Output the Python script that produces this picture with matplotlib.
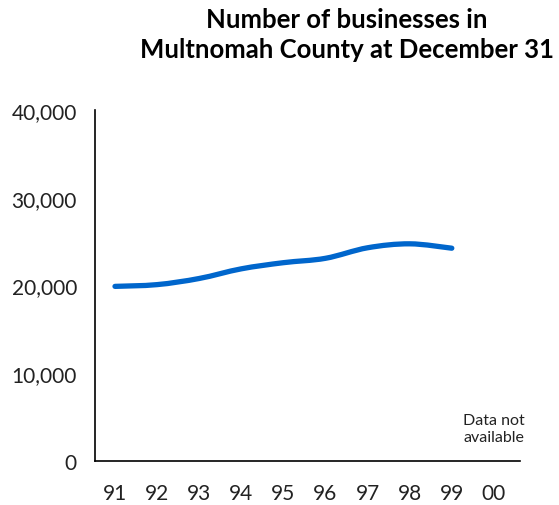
import matplotlib
matplotlib.use('Agg')
import matplotlib.pyplot as plt
import numpy as np
from matplotlib.path import Path
from matplotlib.patches import PathPatch

# data
years = [91, 92, 93, 94, 95, 96, 97, 98, 99]
businesses = [19900, 20100, 20800, 21900, 22600, 23100, 24300, 24750, 24250]
tick_years = [91, 92, 93, 94, 95, 96, 97, 98, 99, 100]
tick_labels = ['91', '92', '93', '94', '95', '96', '97', '98', '99', '00']
y_ticks = [0, 10000, 20000, 30000, 40000]
y_labels = ['0', '10,000', '20,000', '30,000', '40,000']

plt.rcParams['font.family'] = ['Lato', 'DejaVu Sans']

fig = plt.figure(figsize=(5.59, 5.06), dpi=100)
ax = fig.add_axes([95 / 559, 1 - 462 / 506, 425 / 559, 351 / 506])

# smooth line through the points (Catmull-Rom as bezier segments)
x = np.array(years, dtype=float)
y = np.array(businesses, dtype=float)
verts = [(x[0], y[0])]
codes = [Path.MOVETO]
for i in range(len(x) - 1):
    p0 = (x[i - 1], y[i - 1]) if i > 0 else (x[i], y[i])
    p1 = (x[i], y[i])
    p2 = (x[i + 1], y[i + 1])
    p3 = (x[i + 2], y[i + 2]) if i + 2 < len(x) else p2
    c1 = (p1[0] + (p2[0] - p0[0]) / 6, p1[1] + (p2[1] - p0[1]) / 6)
    c2 = (p2[0] - (p3[0] - p1[0]) / 6, p2[1] - (p3[1] - p1[1]) / 6)
    verts += [c1, c2, p2]
    codes += [Path.CURVE4] * 3
ax.add_patch(PathPatch(Path(verts, codes), fill=False, edgecolor='#0066cc',
                       lw=3.8, capstyle='round', joinstyle='round'))

ax.set_xlim(90.525, 100.62)
ax.set_ylim(0, 40000)
ax.set_xticks(tick_years)
ax.set_xticklabels(tick_labels)
ax.set_yticks(y_ticks)
ax.set_yticklabels(y_labels)
ax.tick_params(axis='both', length=0, labelsize=15, colors='#222222')
ax.tick_params(axis='y', pad=13)
ax.tick_params(axis='x', pad=16)
for s in ['top', 'right']:
    ax.spines[s].set_visible(False)
for s in ['left', 'bottom']:
    ax.spines[s].set_linewidth(1.2)
    ax.spines[s].set_color('black')

ax.text(100, 3700, 'Data not\navailable', ha='center', va='center',
        fontsize=11.5, color='#222222', linespacing=1.35)

fig.text(0.62, 0.985, 'Number of businesses in\nMultnomah County at December 31',
         ha='center', va='top', fontsize=18.5, fontweight='bold', linespacing=1.3)

fig.savefig('out.png', dpi=100)
